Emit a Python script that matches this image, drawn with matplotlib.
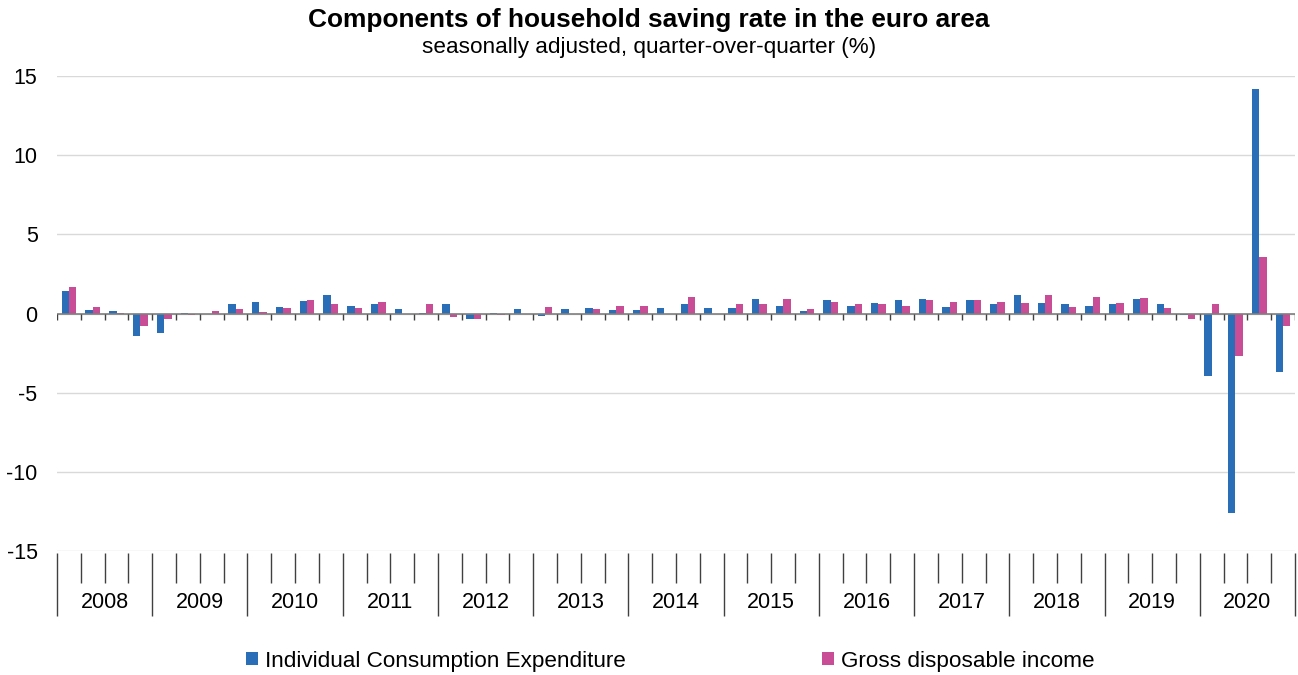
import matplotlib
matplotlib.use("Agg")
import matplotlib.pyplot as plt
import numpy as np
from matplotlib.patches import Patch

plt.rcParams['font.family'] = ['Liberation Sans', 'DejaVu Sans']

years = [str(y) for y in range(2008, 2021)]
quarters = [f"{y}Q{q}" for y in range(2008, 2021) for q in range(1, 5)]

consumption = [
    1.41, 0.21, 0.15, -1.39,
    -1.26, 0.06, 0.0, 0.63,
    0.74, 0.44, 0.80, 1.20,
    0.50, 0.57, 0.27, 0.06,
    0.57, -0.36, 0.06, 0.27,
    -0.17, 0.27, 0.32, 0.21,
    0.21, 0.32, 0.63, 0.32,
    0.32, 0.90, 0.50, 0.15,
    0.86, 0.50, 0.69, 0.86,
    0.90, 0.44, 0.84, 0.57,
    1.14, 0.67, 0.57, 0.50,
    0.57, 0.90, 0.63, -0.12,
    -3.96, -12.63, 14.19, -3.68,
]
income = [
    1.70, 0.44, 0.06, -0.76,
    -0.36, -0.10, 0.15, 0.27,
    0.10, 0.32, 0.86, 0.57,
    0.32, 0.74, 0.0, 0.63,
    -0.23, -0.36, -0.10, 0.0,
    0.44, 0.0, 0.27, 0.50,
    0.50, 0.0, 1.07, 0.0,
    0.63, 0.57, 0.90, 0.27,
    0.74, 0.63, 0.63, 0.50,
    0.84, 0.74, 0.84, 0.74,
    0.67, 1.20, 0.44, 1.07,
    0.67, 0.95, 0.32, -0.36,
    0.63, -2.69, 3.58, -0.80,
]

blue = '#2A6EB8'
pink = '#C84C96'

W, H = 1298, 675
fig = plt.figure(figsize=(W / 100, H / 100), dpi=100)
ax = fig.add_axes([57 / W, (H - 551) / H, (1295 - 57) / W, 475 / H])

x = np.arange(len(quarters))
bw = 0.31
ax.bar(x - bw / 2, consumption, width=bw, color=blue, zorder=3,
       label='Individual Consumption Expenditure')
ax.bar(x + bw / 2, income, width=bw, color=pink, zorder=3,
       label='Gross disposable income')

ax.set_xlim(-0.5, len(quarters) - 0.5)
ax.set_ylim(-15, 15)
ax.set_yticks([-15, -10, -5, 0, 5, 10, 15])
ax.set_yticklabels(['-15', '-10', '-5', '0', '5', '10', '15'])
ax.tick_params(axis='y', length=0, pad=14, labelsize=15.5, colors='#000000')
ax.set_xticks([])
ax.grid(axis='y', color='#D9D9D9', lw=1, zorder=0)
for s in ax.spines.values():
    s.set_visible(False)

# zero category axis with small tick marks
ax.axhline(0, color='#7F7F7F', lw=1.2, zorder=4)
bounds = np.arange(len(quarters) + 1) - 0.5
zero_ax = 15 / 30
ax.vlines(bounds, zero_ax - 6 / 475, zero_ax, transform=ax.get_xaxis_transform(),
          color='#404040', lw=1, zorder=4)

# multi-level bottom axis
for i, b in enumerate(bounds):
    if i % 4 == 0:
        ax.vlines(b, -0.137, -0.004, transform=ax.get_xaxis_transform(),
                  color='#404040', lw=1, clip_on=False)
    else:
        ax.vlines(b, -0.067, -0.004, transform=ax.get_xaxis_transform(),
                  color='#404040', lw=1, clip_on=False)
for k, yr in enumerate(years):
    ax.text(4 * k + 1.5, -0.109, yr, transform=ax.get_xaxis_transform(),
            ha='center', va='center', fontsize=15.5)

fig.text(0.5, 1 - 20 / H, 'Components of household saving rate in the euro area',
         ha='center', va='center', fontsize=18.9, fontweight='bold')
fig.text(0.5, 1 - 48 / H, 'seasonally adjusted, quarter-over-quarter (%)',
         ha='center', va='center', fontsize=16.2)

handles = [Patch(facecolor=blue), Patch(facecolor=pink)]
fig.legend(handles, ['Individual Consumption Expenditure', 'Gross disposable income'],
           loc='center', bbox_to_anchor=(670 / W, 1 - 661 / H), ncol=2, frameon=False,
           fontsize=16.2, handlelength=0.55, handleheight=0.55, handletextpad=0.3,
           columnspacing=8.7)

fig.savefig('out.png', dpi=100)
